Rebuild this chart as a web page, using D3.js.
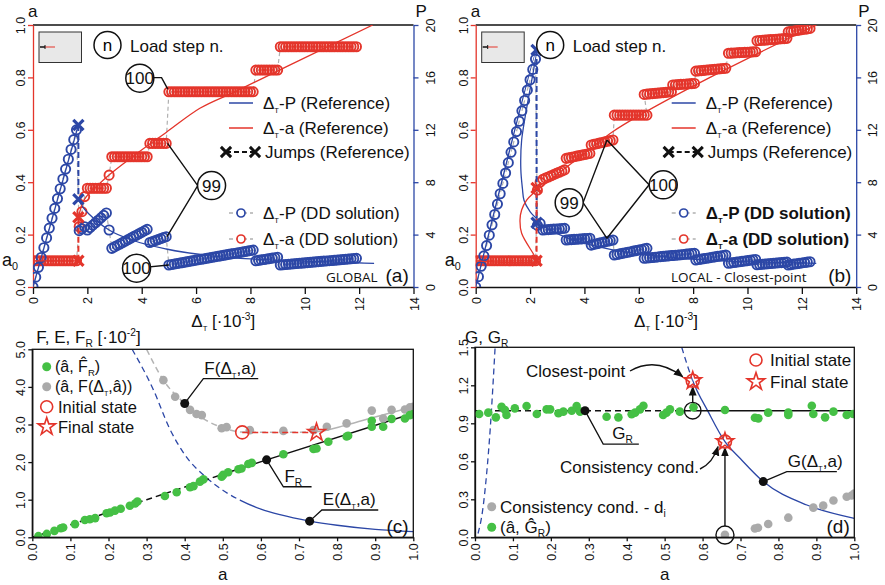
<!DOCTYPE html>
<html>
<head>
<meta charset="utf-8">
<script src="https://cdn.jsdelivr.net/npm/d3@7"></script>
<style>
  body { margin: 0; background: #fff; }
  svg { display: block; font-family: "Liberation Sans", Arial, sans-serif; }
</style>
</head>
<body>
<svg id="chart" width="885" height="585"></svg>
<script>
var RED = "#e4352b", BLUE = "#2c47a6", GREEN = "#45c045", GREY = "#b0b0b0";

// ---------- ticks ----------
var deltaTicks = [0, 2, 4, 6, 8, 10, 12, 14];
var aTicksTop = [0, 0.2, 0.4, 0.6, 0.8, 1.0];
var pTicks = [0, 4, 8, 12, 16, 20];
var aTicksBottom = [0, 0.1, 0.2, 0.3, 0.4, 0.5, 0.6, 0.7, 0.8, 0.9, 1.0];
var fTicks = [0, 1, 2, 3, 4, 5];
var gTicks = [0, 0.3, 0.6, 0.9, 1.2, 1.5];
var a0 = 0.1;
var dStep = 0.1;   // load step increment of Delta_T [1e-3]

// ---------- (a) GLOBAL ----------
// DD solution load-step bands: [delta from, delta to, a from, a to, P from, P to]
var globalBands = [
  [0, 1.6, 0.1, 0.1, 0, 12.0],
  [1.7, 1.9, 0.23, 0.345, 4.3, 4.6],
  [2.0, 2.7, 0.377, 0.377, 4.35, 5.65],
  [2.8, 2.8, 0.427, 0.427, 4.35, 4.35],
  [2.9, 4.2, 0.497, 0.497, 2.95, 4.4],
  [4.3, 4.9, 0.548, 0.548, 3.4, 3.84],
  [5.0, 8.1, 0.745, 0.745, 1.68, 2.82],
  [8.2, 9.0, 0.828, 0.828, 2.0, 2.27],
  [9.1, 11.9, 0.917, 0.917, 1.68, 2.19]
];
var globalRefP = [[0, 0], [1.67, 12.37]];
var globalRefPPost = [[1.67, 6.7], [1.8, 6.2], [2.1, 5.5], [2.8, 4.35], [3.7, 3.55], [4.9, 2.9],
  [6.9, 2.3], [9.0, 2.05], [11.9, 1.85], [12.55, 1.8]];
var globalRefA = [[0, 0.1], [1.67, 0.1]];
var globalRefAPost = [[1.67, 0.266], [1.8, 0.315], [2.0, 0.35], [2.4, 0.39], [2.83, 0.43], [3.7, 0.5],
  [4.9, 0.59], [6.14, 0.682], [7.43, 0.745], [9.5, 0.85], [12.5, 1.0]];
var globalJumpP = [[1.67, 12.37], [1.67, 6.7]];
var globalJumpA = [[1.67, 0.1], [1.67, 0.266]];

// ---------- (b) LOCAL - Closest-point ----------
var localBands = [
  [0, 2.2, 0.1, 0.1, 0, 17.4],
  [2.27, 2.37, 0.37, 0.4, 4.7, 4.85],
  [2.47, 3.27, 0.411, 0.447, 4.35, 4.48],
  [3.33, 4.2, 0.491, 0.51, 3.59, 3.72],
  [4.25, 5.05, 0.542, 0.561, 3.2, 3.59],
  [5.1, 6.3, 0.656, 0.656, 2.44, 2.95],
  [6.2, 7.2, 0.735, 0.745, 2.19, 2.4],
  [7.25, 8.05, 0.771, 0.777, 2.4, 2.57],
  [8.1, 9.2, 0.824, 0.835, 2.06, 2.44],
  [9.3, 10.3, 0.892, 0.898, 1.81, 2.1],
  [10.35, 11.45, 0.94, 0.949, 1.7, 1.9],
  [11.5, 12.3, 0.974, 0.987, 1.68, 1.93]
];
var localRefP = [[0, 0], [2.24, 18.1], [1.69, 11.2], [1.66, 9.0], [1.72, 7.5], [1.78, 6.6], [2.0, 5.75],
  [2.24, 5.2], [2.36, 4.86], [3.3, 3.8], [5.0, 2.85], [7.0, 2.3], [9.0, 2.0], [12.53, 1.81]];
var localRefA = [[0, 0.1], [2.24, 0.1], [2.18, 0.116], [1.69, 0.205], [1.63, 0.256], [1.69, 0.294],
  [1.875, 0.332], [2.12, 0.358], [2.3, 0.373], [3.0, 0.43], [4.0, 0.51], [5.0, 0.59], [6.04, 0.656],
  [9.0, 0.82], [12.54, 1.0]];
var localJumpP = [[2.24, 18.1], [2.24, 4.9]];
var localJumpA = [[2.24, 0.1], [2.24, 0.378]];

// ---------- (c) energies ----------
var eCurve = [[0.262, 5.0], [0.318, 3.92], [0.36, 2.9], [0.4, 2.2], [0.458, 1.58], [0.5, 1.25],
  [0.545, 0.99], [0.6, 0.75], [0.65, 0.6], [0.728, 0.43], [0.8, 0.32], [0.9, 0.21], [1.0, 0.15]];
var frLine = [[0, 0], [0.3, 1.0], [0.615, 2.06], [1.0, 3.3]];
var fCurve = [[0.3, 5.0], [0.344, 4.18], [0.4, 3.56], [0.45, 3.15], [0.493, 2.94], [0.551, 2.8],
  [0.659, 2.79], [0.746, 2.81], [0.825, 2.99], [0.9, 3.2], [1.0, 3.47]];
var fGreenA = [0.016, 0.038, 0.058, 0.075, 0.081, 0.112, 0.138, 0.151, 0.165, 0.195, 0.204, 0.217, 0.232,
  0.256, 0.27, 0.276, 0.348, 0.379, 0.414, 0.423, 0.44, 0.449, 0.497, 0.501, 0.514, 0.541, 0.549, 0.567,
  0.576, 0.659, 0.738, 0.746, 0.777, 0.825, 0.829, 0.891, 0.891, 0.921, 0.943, 0.978, 0.991, 1.0];
var fGreenV = [0.03, 0.09, 0.17, 0.24, 0.26, 0.35, 0.46, 0.48, 0.51, 0.64, 0.66, 0.71, 0.76,
  0.84, 0.9, 0.95, 1.1, 1.2, 1.33, 1.36, 1.48, 1.54, 1.61, 1.66, 1.73, 1.81, 1.83, 1.95,
  1.98, 2.21, 2.35, 2.36, 2.54, 2.68, 2.7, 3.1, 2.94, 2.94, 3.15, 3.16, 3.25, 3.28];
var fGreyA = [0.344, 0.375, 0.414, 0.431, 0.445, 0.497, 0.51, 0.571, 0.659, 0.738, 0.773, 0.825, 0.891,
  0.921, 0.943, 0.978, 0.991, 1.0];
var fGreyV = [4.18, 3.74, 3.39, 3.28, 3.25, 2.9, 2.93, 2.85, 2.83, 2.85, 2.94, 3.03, 3.37,
  3.16, 3.39, 3.4, 3.46, 3.47];
var fInitial = [0.551, 2.79];
var fFinal = [0.746, 2.79];

// ---------- (d) energy release rates ----------
var gLeft = [[0.008, 0.03], [0.02, 0.21], [0.03, 0.48], [0.04, 0.85], [0.053, 1.5]];
var gRight = [[0.545, 1.5], [0.574, 1.236], [0.615, 0.99], [0.659, 0.755], [0.7, 0.62], [0.76, 0.44],
  [0.875, 0.255], [1.0, 0.15]];
var gR = 1.0;
var gGreenA = [0.011, 0.035, 0.055, 0.07, 0.079, 0.083, 0.105, 0.136, 0.163, 0.189, 0.198, 0.22, 0.233,
  0.255, 0.268, 0.277, 0.347, 0.378, 0.413, 0.422, 0.435, 0.444, 0.496, 0.505, 0.514, 0.54, 0.576,
  0.659, 0.738, 0.747, 0.773, 0.826, 0.826, 0.888, 0.892, 0.923, 0.945, 0.98, 0.997];
var gGreenV = [0.973, 0.984, 0.947, 1.031, 1.005, 0.965, 1.018, 1.036, 0.973, 1.01, 1.01, 0.979, 0.992,
  0.999, 1.036, 0.992, 0.952, 0.947, 0.971, 0.984, 1.01, 1.039, 0.965, 0.984, 1.01, 0.992, 1.026,
  1.005, 0.944, 0.939, 0.984, 0.965, 0.984, 1.039, 0.973, 0.947, 0.992, 0.965, 0.973];
var gGreyA = [0.659, 0.738, 0.746, 0.773, 0.826, 0.892, 0.918, 0.945, 0.98, 0.993, 1.0];
var gGreyV = [0.02, 0.07, 0.075, 0.105, 0.155, 0.234, 0.25, 0.29, 0.32, 0.33, 0.345];
var gClosest = [0.574, 1.236];
var gConsistency = [0.659, 0.755];

var svg = d3.select("#chart");

// text with sub/superscripts: parts are strings or [string, "s"|"t"|"p"]  (t = tiny subscript)
function rich(g, x, y, parts, size, anchor, weight) {
  var t = g.append("text").attr("x", x).attr("y", y).attr("font-size", size)
    .attr("text-anchor", anchor || "start").attr("font-weight", weight || "normal").attr("fill", "#111");
  var cur = 0;
  parts.forEach(function (p) {
    var str = typeof p === "string" ? p : p[0];
    var kind = typeof p === "string" ? "n" : p[1];
    var off = kind === "s" || kind === "t" ? size * 0.25 : kind === "p" ? -size * 0.42 : 0;
    var fs = kind === "n" ? size : kind === "t" ? size * 0.45 : size * 0.6;
    t.append("tspan").attr("dy", off - cur).attr("font-size", fs).text(str);
    cur = off;
  });
  return t;
}

function styleAxis(ax, color, size) {
  ax.attr("font-family", null).attr("font-size", null);
  ax.select(".domain").attr("stroke", color).attr("stroke-width", 1.3);
  ax.selectAll(".tick line").attr("stroke", color).attr("stroke-width", 1.3);
  ax.selectAll(".tick text").attr("fill", "#111").attr("font-size", size || 12.5);
}
function rotLeft(ax, off) {
  ax.selectAll(".tick text").attr("transform", "rotate(-90)").attr("x", 0).attr("y", -off)
    .attr("dy", 0).attr("text-anchor", "middle");
}
function rotRight(ax, off) {
  ax.selectAll(".tick text").attr("transform", "rotate(-90)").attr("x", 0).attr("y", off)
    .attr("dy", 0).attr("text-anchor", "middle");
}
function rotBottom(ax, off) {
  ax.selectAll(".tick text").attr("transform", "rotate(-90)").attr("x", -off).attr("y", 4.5)
    .attr("dy", 0).attr("text-anchor", "end");
}

function ddPoints(bands) {
  var pts = [];
  bands.forEach(function (b) {
    var n = Math.round((b[1] - b[0]) / dStep);
    for (var i = 0; i <= n; i++) {
      var t = n ? i / n : 0;
      pts.push({ d: b[0] + (b[1] - b[0]) * t, a: b[2] + (b[3] - b[2]) * t, p: b[4] + (b[5] - b[4]) * t });
    }
  });
  return pts;
}

var symX = d3.symbol(d3.symbolX, 70);
var symStar = d3.symbol(d3.symbolStar, 95);

// ---------- panels (a) and (b) ----------
function drawTop(o) {
  var left = o.left, right = left + 380.5;
  var x = d3.scaleLinear().domain([0, 14]).range([left, right]);
  var yA = d3.scaleLinear().domain([0, 1]).range([287, 25]);
  var yP = d3.scaleLinear().domain([0, 20]).range([287, 25]);
  var g = svg.append("g");

  var clipId = "clip" + o.id;
  svg.append("clipPath").attr("id", clipId).append("rect")
    .attr("x", left).attr("y", 25).attr("width", right - left).attr("height", 262);

  g.append("line").attr("x1", left).attr("x2", right).attr("y1", 25).attr("y2", 25)
    .attr("stroke", "#111").attr("stroke-width", 1.3);

  var axB = g.append("g").attr("transform", "translate(0,287)")
    .call(d3.axisBottom(x).tickValues(deltaTicks).tickSize(7).tickSizeOuter(0));
  styleAxis(axB, "#111"); rotBottom(axB, 10);
  var axL = g.append("g").attr("transform", "translate(" + left + ",0)")
    .call(d3.axisLeft(yA).tickValues(aTicksTop).tickFormat(d3.format(".1f")).tickSize(5).tickSizeOuter(0));
  styleAxis(axL, RED); rotLeft(axL, 8);
  var axR = g.append("g").attr("transform", "translate(" + right + ",0)")
    .call(d3.axisRight(yP).tickValues(pTicks).tickSize(5).tickSizeOuter(0));
  styleAxis(axR, BLUE); rotRight(axR, 21);

  rich(g, left - 5, 17, ["a"], 17);
  rich(g, right + 2, 17, ["P"], 17);
  rich(g, (left + right) / 2, 327, ["Δ", ["T", "t"], " [·10", ["-3", "p"], "]"], 17, "middle");
  rich(g, left - 31, yA(a0) + 5, ["a", ["0", "s"]], 18);

  var plot = g.append("g").attr("clip-path", "url(#" + clipId + ")");
  var pts = ddPoints(o.bands);
  var lineA = d3.line().x(function (d) { return x(d.d); }).y(function (d) { return yA(d.a); });
  var lineP = d3.line().x(function (d) { return x(d.d); }).y(function (d) { return yP(d.p); });
  plot.append("path").attr("d", lineA(pts)).attr("fill", "none").attr("stroke", GREY)
    .attr("stroke-width", 1.2).attr("stroke-dasharray", "4,3");
  plot.append("path").attr("d", lineP(pts)).attr("fill", "none").attr("stroke", GREY)
    .attr("stroke-width", 1.2).attr("stroke-dasharray", "4,3");

  plot.selectAll(".ca").data(pts).enter().append("circle")
    .attr("cx", function (d) { return x(d.d); }).attr("cy", function (d) { return yA(d.a); })
    .attr("r", 4.6).attr("fill", "none").attr("stroke", RED).attr("stroke-width", 1.9);
  plot.selectAll(".cp").data(pts).enter().append("circle")
    .attr("cx", function (d) { return x(d.d); }).attr("cy", function (d) { return yP(d.p); })
    .attr("r", 4.6).attr("fill", "none").attr("stroke", BLUE).attr("stroke-width", 1.9);

  var refLineA = d3.line().x(function (d) { return x(d[0]); }).y(function (d) { return yA(d[1]); }).curve(o.curve);
  var refLineP = d3.line().x(function (d) { return x(d[0]); }).y(function (d) { return yP(d[1]); }).curve(o.curve);
  o.refP.forEach(function (r) {
    plot.append("path").attr("d", refLineP(r)).attr("fill", "none").attr("stroke", BLUE).attr("stroke-width", 1.3);
  });
  o.refA.forEach(function (r) {
    plot.append("path").attr("d", refLineA(r)).attr("fill", "none").attr("stroke", RED).attr("stroke-width", 1.3);
  });

  // jumps
  var straightA = d3.line().x(function (d) { return x(d[0]); }).y(function (d) { return yA(d[1]); });
  var straightP = d3.line().x(function (d) { return x(d[0]); }).y(function (d) { return yP(d[1]); });
  g.append("path").attr("d", straightP(o.jumpP)).attr("stroke", BLUE).attr("stroke-width", 2)
    .attr("stroke-dasharray", "6,3").attr("fill", "none");
  g.append("path").attr("d", straightA(o.jumpA)).attr("stroke", RED).attr("stroke-width", 2)
    .attr("stroke-dasharray", "6,3").attr("fill", "none");
  g.selectAll(".jp").data(o.jumpP).enter().append("path").attr("d", symX)
    .attr("transform", function (d) { return "translate(" + x(d[0]) + "," + yP(d[1]) + ")"; })
    .attr("stroke", BLUE).attr("stroke-width", 3.2).attr("fill", "none");
  g.selectAll(".ja").data(o.jumpA).enter().append("path").attr("d", symX)
    .attr("transform", function (d) { return "translate(" + x(d[0]) + "," + yA(d[1]) + ")"; })
    .attr("stroke", RED).attr("stroke-width", 3.2).attr("fill", "none");

  // callouts (load step numbers)
  o.callouts.forEach(function (c) {
    var cx = x(c.at[0]), cy = yA(c.at[1]);
    c.legs.forEach(function (leg) {
      var pts2 = leg.map(function (p) { return [x(p[0]), p[2] === "P" ? yP(p[1]) : yA(p[1])]; });
      g.append("path").attr("d", d3.line()([[cx, cy]].concat(pts2))).attr("fill", "none")
        .attr("stroke", "#111").attr("stroke-width", 1.4);
    });
    g.append("circle").attr("cx", cx).attr("cy", cy).attr("r", 14).attr("fill", "#fff")
      .attr("stroke", "#111").attr("stroke-width", 1.5);
    g.append("text").attr("x", cx).attr("y", cy + 6).attr("text-anchor", "middle")
      .attr("font-size", 17).attr("fill", "#111").text(c.n);
  });

  // legend
  var lg = g.append("g").attr("transform", "translate(" + left + ",0)");
  lg.append("rect").attr("x", 6).attr("y", 32).attr("width", 42.5).attr("height", 30.5)
    .attr("fill", "#e8e8e8").attr("stroke", "#333").attr("stroke-width", 1);
  lg.append("line").attr("x1", 7).attr("x2", 12).attr("y1", 47).attr("y2", 47).attr("stroke", "#111").attr("stroke-width", 1.5);
  lg.append("line").attr("x1", 12).attr("x2", 22).attr("y1", 47).attr("y2", 47).attr("stroke", RED).attr("stroke-width", 1);
  lg.append("line").attr("x1", 12).attr("x2", 12).attr("y1", 45).attr("y2", 49).attr("stroke", "#111").attr("stroke-width", 1);
  lg.append("circle").attr("cx", 74.5).attr("cy", 45).attr("r", 13.5).attr("fill", "#fff")
    .attr("stroke", "#111").attr("stroke-width", 1.5);
  lg.append("text").attr("x", 74.5).attr("y", 51).attr("text-anchor", "middle").attr("font-size", 17).text("n");
  lg.append("text").attr("x", 97).attr("y", 52).attr("font-size", 17).attr("fill", "#111").text("Load step n.");

  var items = [
    { y: 103, kind: "line", color: BLUE, label: "-P (Reference)", w: "normal" },
    { y: 128, kind: "line", color: RED, label: "-a (Reference)", w: "normal" },
    { y: 152, kind: "jump", color: "#111", label: "Jumps (Reference)", w: "normal" },
    { y: 213, kind: "dd", color: BLUE, label: "-P (DD solution)", w: o.bold ? "bold" : "normal" },
    { y: 239, kind: "dd", color: RED, label: "-a (DD solution)", w: o.bold ? "bold" : "normal" }
  ];
  items.forEach(function (it) {
    if (it.kind === "line") {
      lg.append("line").attr("x1", 196).attr("x2", 220).attr("y1", it.y).attr("y2", it.y)
        .attr("stroke", it.color).attr("stroke-width", 1.5);
    } else if (it.kind === "jump") {
      lg.append("line").attr("x1", 193).attr("x2", 222).attr("y1", it.y).attr("y2", it.y)
        .attr("stroke", "#111").attr("stroke-width", 2).attr("stroke-dasharray", "5,3");
      [193, 222].forEach(function (px) {
        lg.append("path").attr("d", symX).attr("transform", "translate(" + px + "," + it.y + ")")
          .attr("stroke", "#111").attr("stroke-width", 3).attr("fill", "none");
      });
    } else {
      lg.append("line").attr("x1", 196).attr("x2", 220).attr("y1", it.y).attr("y2", it.y)
        .attr("stroke", GREY).attr("stroke-width", 1.3).attr("stroke-dasharray", "4,3");
      lg.append("circle").attr("cx", 208).attr("cy", it.y).attr("r", 4).attr("fill", "#fff")
        .attr("stroke", it.color).attr("stroke-width", 1.7);
    }
    if (it.kind === "jump") {
      rich(lg, 232, it.y + 6, [it.label], 17);
    } else {
      rich(lg, 230, it.y + 6, ["Δ", ["T", "t"], it.label], 17, "start", it.w);
    }
  });

  g.append("text").attr("x", o.tagX).attr("y", 282).attr("font-family", "'Open Sans', sans-serif")
    .attr("font-size", 13.5).attr("fill", "#111").text(o.tag);
  g.append("text").attr("x", right - 28).attr("y", 282).attr("font-size", 19).attr("fill", "#111").text(o.letter);
}

drawTop({
  id: "a", left: 33, bands: globalBands, curve: d3.curveMonotoneX,
  refP: [globalRefP, globalRefPPost], refA: [globalRefA, globalRefAPost],
  jumpP: globalJumpP, jumpA: globalJumpA, bold: false,
  tag: "GLOBAL", tagX: 326, letter: "(a)",
  callouts: [
    { n: "100", at: [3.93, 0.797], legs: [[[4.47, 0.799, "a"], [4.73, 0.799, "a"], [4.96, 0.755, "a"]]] },
    { n: "99", at: [6.57, 0.387], legs: [[[6.06, 0.387, "a"], [4.95, 0.548, "a"]], [[6.06, 0.387, "a"], [4.93, 3.84, "P"]]] },
    { n: "100", at: [3.81, 0.072], legs: [[[5.0, 1.68, "P"]]] }
  ]
});

drawTop({
  id: "b", left: 475.7, bands: localBands, curve: d3.curveCatmullRom.alpha(0.5),
  refP: [localRefP], refA: [localRefA],
  jumpP: localJumpP, jumpA: localJumpA, bold: true,
  tag: "LOCAL - Closest-point", tagX: 671, letter: "(b)",
  callouts: [
    { n: "99", at: [3.44, 0.322], legs: [[[3.95, 0.322, "a"], [4.83, 0.561, "a"]], [[3.95, 0.322, "a"], [4.83, 3.72, "P"]]] },
    { n: "100", at: [6.9, 0.39], legs: [[[6.38, 0.39, "a"], [4.83, 0.561, "a"]], [[6.38, 0.39, "a"], [4.83, 3.72, "P"]]] }
  ]
});

// ---------- panel (c) ----------
(function () {
  var left = 32.3, right = 413.3, top = 349.3, bottom = 537.3;
  var x = d3.scaleLinear().domain([0, 1]).range([left, right]);
  var y = d3.scaleLinear().domain([0, 5]).range([bottom, top]);
  var g = svg.append("g");
  svg.append("clipPath").attr("id", "clipc").append("rect")
    .attr("x", left).attr("y", top).attr("width", right - left).attr("height", bottom - top);

  var axB = g.append("g").attr("transform", "translate(0," + bottom + ")")
    .call(d3.axisBottom(x).tickValues(aTicksBottom).tickFormat(d3.format(".1f")).tickSize(4).tickSizeOuter(0));
  styleAxis(axB, "#111"); rotBottom(axB, 6);
  var axL = g.append("g").attr("transform", "translate(" + left + ",0)")
    .call(d3.axisLeft(y).tickValues(fTicks).tickFormat(d3.format(".1f")).tickSize(4).tickSizeOuter(0));
  styleAxis(axL, "#111"); rotLeft(axL, 7);
  rich(g, left + 4, 343, ["F, E, F", ["R", "s"], " [·10", ["-2", "p"], "]"], 17);
  rich(g, (left + right) / 2, 580, ["a"], 17, "middle");

  var plot = g.append("g").attr("clip-path", "url(#clipc)");
  var line = d3.line().x(function (d) { return x(d[0]); }).y(function (d) { return y(d[1]); }).curve(d3.curveMonotoneX);
  // dashed part before `at`, solid part after it
  function dashSolid(data, at, color, w, id) {
    svg.append("clipPath").attr("id", "cd" + id).append("rect")
      .attr("x", left).attr("y", top).attr("width", x(at) - left).attr("height", bottom - top);
    svg.append("clipPath").attr("id", "cs" + id).append("rect")
      .attr("x", x(at)).attr("y", top).attr("width", right - x(at)).attr("height", bottom - top);
    plot.append("path").attr("d", line(data)).attr("fill", "none").attr("stroke", color)
      .attr("stroke-width", w).attr("stroke-dasharray", "6,4").attr("clip-path", "url(#cd" + id + ")");
    plot.append("path").attr("d", line(data)).attr("fill", "none").attr("stroke", color)
      .attr("stroke-width", w).attr("clip-path", "url(#cs" + id + ")");
  }
  dashSolid(eCurve, 0.545, BLUE, 1.3, "e");
  dashSolid(fCurve, 0.746, "#b4b4b4", 1.5, "f");
  dashSolid(frLine, 0.57, "#111", 1.5, "r");

  plot.selectAll(".gr").data(fGreyA).enter().append("circle")
    .attr("cx", function (d) { return x(d); }).attr("cy", function (d, i) { return y(fGreyV[i]); })
    .attr("r", 4.3).attr("fill", "#aaa");
  plot.selectAll(".gn").data(fGreenA).enter().append("circle")
    .attr("cx", function (d) { return x(d); }).attr("cy", function (d, i) { return y(fGreenV[i]); })
    .attr("r", 4.3).attr("fill", GREEN);

  plot.append("line").attr("x1", x(fInitial[0])).attr("x2", x(fFinal[0]))
    .attr("y1", y(fInitial[1])).attr("y2", y(fFinal[1])).attr("stroke", RED).attr("stroke-width", 1.5)
    .attr("stroke-dasharray", "6,4");
  g.append("circle").attr("cx", x(fInitial[0])).attr("cy", y(fInitial[1])).attr("r", 6.5)
    .attr("fill", "none").attr("stroke", RED).attr("stroke-width", 1.6);
  g.append("path").attr("d", symStar).attr("transform", "translate(" + x(fFinal[0]) + "," + y(fFinal[1]) + ")")
    .attr("fill", "none").attr("stroke", RED).attr("stroke-width", 1.6);

  // labelled points
  var labs = [
    { p: [0.4, 3.56], knee: [0.449, 4.22], end: 0.593, parts: ["F(Δ", ["T", "t"], ",a)"] },
    { p: [0.615, 2.06], knee: [0.659, 1.345], end: 0.733, parts: ["F", ["R", "s"]] },
    { p: [0.728, 0.43], knee: [0.76, 0.726], end: 0.908, parts: ["E(Δ", ["T", "t"], ",a)"] }
  ];
  labs.forEach(function (l) {
    g.append("path").attr("d", d3.line()([[x(l.p[0]), y(l.p[1])], [x(l.knee[0]), y(l.knee[1])], [x(l.end), y(l.knee[1])]]))
      .attr("fill", "none").attr("stroke", "#111").attr("stroke-width", 1.3);
    g.append("circle").attr("cx", x(l.p[0])).attr("cy", y(l.p[1])).attr("r", 4.5).attr("fill", "#111");
    rich(g, x(l.knee[0]) + 1, y(l.knee[1]) - 5, l.parts, 17);
  });

  g.append("rect").attr("x", left).attr("y", top).attr("width", right - left).attr("height", bottom - top)
    .attr("fill", "none").attr("stroke", "#111").attr("stroke-width", 1.3);

  // legend
  var lg = g.append("g");
  lg.append("circle").attr("cx", 46.7).attr("cy", 366.7).attr("r", 4.5).attr("fill", GREEN);
  rich(lg, 55, 372, ["(â, F\u0302", ["R", "s"], ")"], 16);
  lg.append("circle").attr("cx", 46.7).attr("cy", 386.7).attr("r", 4.5).attr("fill", "#aaa");
  rich(lg, 55, 392, ["(â, F(Δ", ["T", "t"], ",â))"], 16);
  lg.append("circle").attr("cx", 46.7).attr("cy", 406.7).attr("r", 6).attr("fill", "none").attr("stroke", RED).attr("stroke-width", 1.6);
  rich(lg, 58, 412.5, ["Initial state"], 16.5);
  lg.append("path").attr("d", symStar).attr("transform", "translate(46.7,426.7)").attr("fill", "none").attr("stroke", RED).attr("stroke-width", 1.6);
  rich(lg, 58, 432.5, ["Final state"], 16.5);
  g.append("text").attr("x", 386.5).attr("y", 533).attr("font-size", 19).attr("fill", "#111").text("(c)");
})();

// ---------- panel (d) ----------
(function () {
  var left = 475, right = 854.3, top = 347.3, bottom = 537.3;
  var x = d3.scaleLinear().domain([0, 1]).range([left, right]);
  var y = d3.scaleLinear().domain([0, 1.5]).range([bottom, top]);
  var g = svg.append("g");
  svg.append("clipPath").attr("id", "clipd").append("rect")
    .attr("x", left).attr("y", top).attr("width", right - left).attr("height", bottom - top);

  var axB = g.append("g").attr("transform", "translate(0," + bottom + ")")
    .call(d3.axisBottom(x).tickValues(aTicksBottom).tickFormat(d3.format(".1f")).tickSize(4).tickSizeOuter(0));
  styleAxis(axB, "#111"); rotBottom(axB, 6);
  var axL = g.append("g").attr("transform", "translate(" + left + ",0)")
    .call(d3.axisLeft(y).tickValues(gTicks).tickFormat(d3.format(".1f")).tickSize(4).tickSizeOuter(0));
  styleAxis(axL, "#111"); rotLeft(axL, 7);
  rich(g, left - 10, 343, ["G, G", ["R", "s"]], 17);
  rich(g, (left + right) / 2, 580, ["a"], 17, "middle");

  var plot = g.append("g").attr("clip-path", "url(#clipd)");
  var line = d3.line().x(function (d) { return x(d[0]); }).y(function (d) { return y(d[1]); }).curve(d3.curveMonotoneX);
  function dashSolid(data, at, color, w, id) {
    svg.append("clipPath").attr("id", "dd" + id).append("rect")
      .attr("x", left).attr("y", top).attr("width", x(at) - left).attr("height", bottom - top);
    svg.append("clipPath").attr("id", "ds" + id).append("rect")
      .attr("x", x(at)).attr("y", top).attr("width", right - x(at)).attr("height", bottom - top);
    plot.append("path").attr("d", line(data)).attr("fill", "none").attr("stroke", color)
      .attr("stroke-width", w).attr("stroke-dasharray", "6,4").attr("clip-path", "url(#dd" + id + ")");
    plot.append("path").attr("d", line(data)).attr("fill", "none").attr("stroke", color)
      .attr("stroke-width", w).attr("clip-path", "url(#ds" + id + ")");
  }
  plot.append("path").attr("d", line(gLeft)).attr("fill", "none").attr("stroke", BLUE)
    .attr("stroke-width", 1.3).attr("stroke-dasharray", "6,4");
  dashSolid(gRight, 0.574, BLUE, 1.3, "g");
  dashSolid([[0, gR], [1, gR]], 0.576, "#111", 1.5, "r");

  plot.selectAll(".gn").data(gGreenA).enter().append("circle")
    .attr("cx", function (d) { return x(d); }).attr("cy", function (d, i) { return y(gGreenV[i]); })
    .attr("r", 4.3).attr("fill", GREEN);
  plot.selectAll(".gr").data(gGreyA).enter().append("circle")
    .attr("cx", function (d) { return x(d); }).attr("cy", function (d, i) { return y(gGreyV[i]); })
    .attr("r", 4.3).attr("fill", "#aaa");

  var defs = svg.append("defs");
  defs.append("marker").attr("id", "arrow").attr("viewBox", "0 0 10 10").attr("refX", 9).attr("refY", 5)
    .attr("markerWidth", 7).attr("markerHeight", 7).attr("orient", "auto-start-reverse")
    .append("path").attr("d", "M0,1L10,5L0,9z").attr("fill", "#111");

  // black circles around the start points + vertical arrows
  var startTop = [gClosest[0], gR], startBot = [gConsistency[0], 0.018];
  [startTop, startBot].forEach(function (s, i) {
    var r = i ? 9 : 8.3;
    g.append("circle").attr("cx", x(s[0])).attr("cy", y(s[1])).attr("r", r).attr("fill", "none")
      .attr("stroke", "#111").attr("stroke-width", 1.4);
  });
  g.append("line").attr("x1", x(startTop[0])).attr("x2", x(gClosest[0]))
    .attr("y1", y(startTop[1]) - 8.3).attr("y2", y(gClosest[1]) + 6).attr("stroke", "#111")
    .attr("stroke-width", 1.4).attr("marker-end", "url(#arrow)");
  g.append("line").attr("x1", x(startBot[0])).attr("x2", x(gConsistency[0]))
    .attr("y1", y(startBot[1]) - 9).attr("y2", y(gConsistency[1]) + 6).attr("stroke", "#111")
    .attr("stroke-width", 1.4).attr("marker-end", "url(#arrow)");

  [gClosest, gConsistency].forEach(function (p) {
    g.append("circle").attr("cx", x(p[0])).attr("cy", y(p[1])).attr("r", 6.5)
      .attr("fill", "none").attr("stroke", RED).attr("stroke-width", 1.6);
    g.append("path").attr("d", symStar).attr("transform", "translate(" + x(p[0]) + "," + y(p[1]) + ")")
      .attr("fill", "none").attr("stroke", RED).attr("stroke-width", 1.6);
  });

  // curved arrows with texts
  rich(g, 526, 377, ["Closest-point"], 17);
  g.append("path").attr("d", "M630,371Q656,356 " + (x(gClosest[0]) - 10) + "," + (y(gClosest[1]) - 4))
    .attr("fill", "none").attr("stroke", "#111").attr("stroke-width", 1.4).attr("marker-end", "url(#arrow)");
  rich(g, 560, 473, ["Consistency cond."], 17);
  g.append("path").attr("d", "M700,469Q713,463 " + (x(gConsistency[0]) - 7) + "," + (y(gConsistency[1]) + 5))
    .attr("fill", "none").attr("stroke", "#111").attr("stroke-width", 1.4).attr("marker-end", "url(#arrow)");

  var labs = [
    { p: [0.29, gR], knee: [0.338, 0.736], end: 0.432, parts: ["G", ["R", "s"]], dx: 9 },
    { p: [0.76, 0.44], knee: [0.822, 0.518], end: 0.954, parts: ["G(Δ", ["T", "t"], ",a)"], dx: 1 }
  ];
  labs.forEach(function (l) {
    g.append("path").attr("d", d3.line()([[x(l.p[0]), y(l.p[1])], [x(l.knee[0]), y(l.knee[1])], [x(l.end), y(l.knee[1])]]))
      .attr("fill", "none").attr("stroke", "#111").attr("stroke-width", 1.3);
    g.append("circle").attr("cx", x(l.p[0])).attr("cy", y(l.p[1])).attr("r", 4.5).attr("fill", "#111");
    rich(g, x(l.knee[0]) + l.dx, y(l.knee[1]) - 5, l.parts, 17);
  });

  g.append("rect").attr("x", left).attr("y", top).attr("width", right - left).attr("height", bottom - top)
    .attr("fill", "none").attr("stroke", "#111").attr("stroke-width", 1.3);

  // legends
  g.append("circle").attr("cx", 756).attr("cy", 360).attr("r", 6).attr("fill", "none").attr("stroke", RED).attr("stroke-width", 1.6);
  rich(g, 770, 366, ["Initial state"], 17);
  g.append("path").attr("d", symStar).attr("transform", "translate(756,381.7)").attr("fill", "none").attr("stroke", RED).attr("stroke-width", 1.6);
  rich(g, 770, 388, ["Final state"], 17);
  g.append("circle").attr("cx", 491.7).attr("cy", 506.7).attr("r", 4.5).attr("fill", "#aaa");
  rich(g, 500, 513, ["Consistency cond. - d", ["i", "s"]], 17);
  g.append("circle").attr("cx", 491.7).attr("cy", 527.3).attr("r", 4.5).attr("fill", GREEN);
  rich(g, 500, 533, ["(â, \u011C", ["R", "s"], ")"], 17);
  g.append("text").attr("x", 826.5).attr("y", 533).attr("font-size", 19).attr("fill", "#111").text("(d)");
})();
</script>
</body>
</html>
